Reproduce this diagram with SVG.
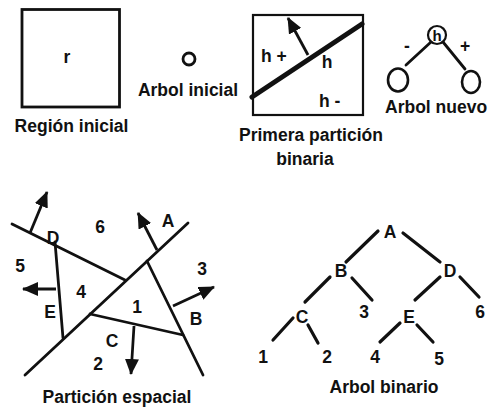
<svg xmlns="http://www.w3.org/2000/svg" width="488" height="411" viewBox="0 0 488 411">
<style>
text{font-family:"Liberation Sans",Arial,sans-serif;font-weight:bold;font-size:17.5px;fill:#111;text-anchor:middle}
.s{text-anchor:start}
.ln{stroke:#111;stroke-width:2.8;fill:none;stroke-linecap:round}
.tl{stroke:#111;stroke-width:3.2;fill:none;stroke-linecap:round}
.ar{stroke:#111;stroke-width:2.8;fill:none}
</style>
<defs>
<marker id="ah" viewBox="0 0 16 14" refX="15" refY="7" markerWidth="16" markerHeight="14" markerUnits="userSpaceOnUse" orient="auto">
<path d="M0,0 L16,7 L0,14 z" fill="#111"/>
</marker>
</defs>

<g id="region-inicial">
<rect x="22" y="9.5" width="97.5" height="97.5" fill="none" stroke="#111" stroke-width="2.8"/>
<text x="67" y="63">r</text>
<text x="71.5" y="132">Región inicial</text>
</g>

<g id="arbol-inicial">
<circle cx="189" cy="59" r="6" fill="none" stroke="#111" stroke-width="2.8"/>
<text x="188" y="96">Arbol inicial</text>
</g>

<g id="primera-particion">
<rect x="253" y="15" width="110" height="100" fill="none" stroke="#111" stroke-width="2.2"/>
<line x1="252" y1="97" x2="362" y2="24" stroke="#111" stroke-width="5" stroke-linecap="round"/>
<line class="ar" x1="308" y1="55" x2="288" y2="18" marker-end="url(#ah)"/>
<text class="s" x="261" y="62">h +</text>
<text x="327" y="68">h</text>
<text class="s" x="319" y="107">h -</text>
<text x="311" y="141">Primera partición</text>
<text x="305" y="165">binaria</text>
</g>

<g id="arbol-nuevo">
<circle cx="437" cy="35" r="9" fill="none" stroke="#111" stroke-width="2.2"/>
<text x="437" y="41" style="font-size:15px">h</text>
<ellipse cx="398" cy="80" rx="10" ry="11.5" fill="none" stroke="#111" stroke-width="2.6"/>
<ellipse cx="471" cy="82" rx="9" ry="11" fill="none" stroke="#111" stroke-width="2.6"/>
<line class="ln" x1="431" y1="42" x2="406" y2="65"/>
<line class="ln" x1="443" y1="42" x2="465" y2="69"/>
<text x="407" y="52">-</text>
<text x="465" y="52">+</text>
<text class="s" x="385" y="113">Arbol nuevo</text>
</g>

<g id="particion-espacial">
<line class="ln" x1="12" y1="224" x2="125" y2="280"/>
<line class="ln" x1="25" y1="375" x2="188" y2="223"/>
<line class="ln" x1="55" y1="242" x2="63" y2="338"/>
<line class="ln" x1="147" y1="261" x2="203" y2="375"/>
<line class="ln" x1="90" y1="314" x2="183" y2="335"/>
<line class="ar" x1="30" y1="233" x2="47" y2="192" marker-end="url(#ah)"/>
<line class="ar" x1="157" y1="250" x2="138" y2="213" marker-end="url(#ah)"/>
<line class="ar" x1="56" y1="289" x2="23" y2="289" marker-end="url(#ah)"/>
<line class="ar" x1="173" y1="306" x2="214" y2="287" marker-end="url(#ah)"/>
<line class="ar" x1="134" y1="326" x2="131" y2="374" marker-end="url(#ah)"/>
<text x="53" y="244">D</text>
<text x="100" y="233">6</text>
<text x="168" y="227">A</text>
<text x="20" y="272">5</text>
<text x="202" y="275">3</text>
<text x="81" y="298">4</text>
<text x="137" y="313">1</text>
<text x="50" y="318">E</text>
<text x="196" y="325">B</text>
<text x="112" y="347">C</text>
<text x="98" y="370">2</text>
<text x="117" y="403">Partición espacial</text>
</g>

<g id="arbol-binario">
<g id="edges">
<line class="tl" x1="378" y1="231" x2="346" y2="262"/>
<line class="tl" x1="403" y1="233" x2="440" y2="262"/>
<line class="tl" x1="330" y1="277" x2="305" y2="302"/>
<line class="tl" x1="352" y1="278" x2="372" y2="300"/>
<line class="tl" x1="440" y1="277" x2="415" y2="300"/>
<line class="tl" x1="460" y1="277" x2="479" y2="297"/>
<line class="tl" x1="293" y1="318" x2="273" y2="340"/>
<line class="tl" x1="308" y1="325" x2="318" y2="343"/>
<line class="tl" x1="400" y1="323" x2="380" y2="342"/>
<line class="tl" x1="417" y1="325" x2="433" y2="342"/>
</g>
<g id="nA"><text x="390" y="238">A</text></g>
<g id="nB"><text x="341" y="277">B</text></g>
<g id="nD"><text x="450" y="277">D</text></g>
<g id="nC"><text x="302" y="323">C</text></g>
<g id="n3"><text x="364" y="318">3</text></g>
<g id="nE"><text x="409" y="323">E</text></g>
<g id="n6"><text x="480" y="318">6</text></g>
<g id="n1"><text x="263" y="363">1</text></g>
<g id="n2"><text x="327" y="363">2</text></g>
<g id="n4"><text x="375" y="363">4</text></g>
<g id="n5"><text x="439" y="365">5</text></g>
<text x="384" y="393">Arbol binario</text>
</g>
</svg>
